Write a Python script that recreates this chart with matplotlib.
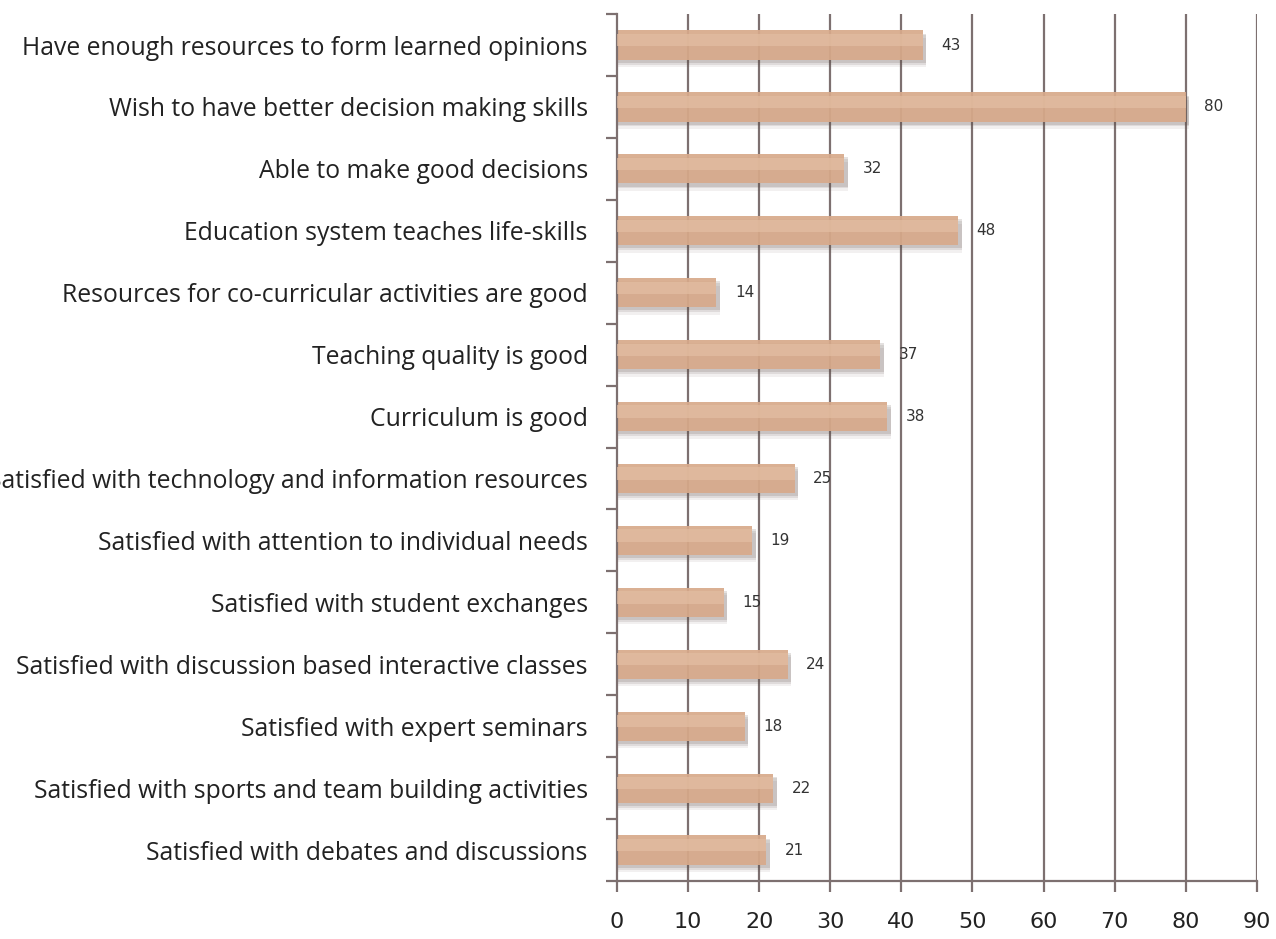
import matplotlib.pyplot as plt
import numpy as np

categories = [
    "Have enough resources to form learned opinions",
    "Wish to have better decision making skills",
    "Able to make good decisions",
    "Education system teaches life-skills",
    "Resources for co-curricular activities are good",
    "Teaching quality is good",
    "Curriculum is good",
    "Satisfied with technology and information resources",
    "Satisfied with attention to individual needs",
    "Satisfied with student exchanges",
    "Satisfied with discussion based interactive classes",
    "Satisfied with expert seminars",
    "Satisfied with sports and team building activities",
    "Satisfied with debates and discussions",
]
values = [43, 80, 32, 48, 14, 37, 38, 25, 19, 15, 24, 18, 22, 21]
xticks = [0, 10, 20, 30, 40, 50, 60, 70, 80, 90]

bar_color = "#d8aa8b"
line_color = "#7d7070"

fig = plt.figure(figsize=(12.76, 9.39), dpi=100)
ax = fig.add_axes([0.4835, 0.0618, 0.5015, 0.9232])

n = len(categories)
y = np.arange(n)[::-1]

# vertical gridlines behind the bars
for t in xticks[1:]:
    ax.axvline(t, color=line_color, lw=1.6, zorder=0)

# soft shadow under each bar
for dy, a in [(0.12, 0.08), (0.08, 0.12), (0.05, 0.16)]:
    ax.barh(y - dy, [v + 0.5 for v in values], height=0.47, color="#5a4a44",
            alpha=a, lw=0, zorder=1)
ax.barh(y, values, height=0.47, color=bar_color, alpha=0.93, lw=0, zorder=2)
# lighter band near the top of each bar
ax.barh(y + 0.08, values, height=0.2, color="#e3bea3", alpha=0.7, lw=0, zorder=3)

for yi, v in zip(y, values):
    ax.text(v + 2.6, yi, str(v), va="center", ha="left", fontsize=11,
            color="#333333", fontfamily="DejaVu Sans Condensed")

ax.set_xlim(0, 90)
ax.set_ylim(-0.5, n - 0.5)
ax.set_xticks(xticks)
ax.set_xticklabels([str(t) for t in xticks], fontsize=16, color="#222222",
                   fontfamily="DejaVu Sans Condensed")
ax.set_yticks(y)
ax.set_yticklabels(categories, fontsize=17.8, color="#222222", fontfamily="Open Sans")
ax.tick_params(axis="y", length=0, pad=21)
ax.set_yticks(np.arange(n + 1) - 0.5, minor=True)
ax.tick_params(axis="y", which="minor", length=8, width=1.6, color=line_color)
ax.tick_params(axis="x", length=8, width=1.6, color=line_color, pad=14)

for s in ["top", "right"]:
    ax.spines[s].set_visible(False)
ax.spines["left"].set_color(line_color)
ax.spines["left"].set_linewidth(1.6)
ax.spines["bottom"].set_color(line_color)
ax.spines["bottom"].set_linewidth(1.6)

fig.savefig("out.png", dpi=100)
